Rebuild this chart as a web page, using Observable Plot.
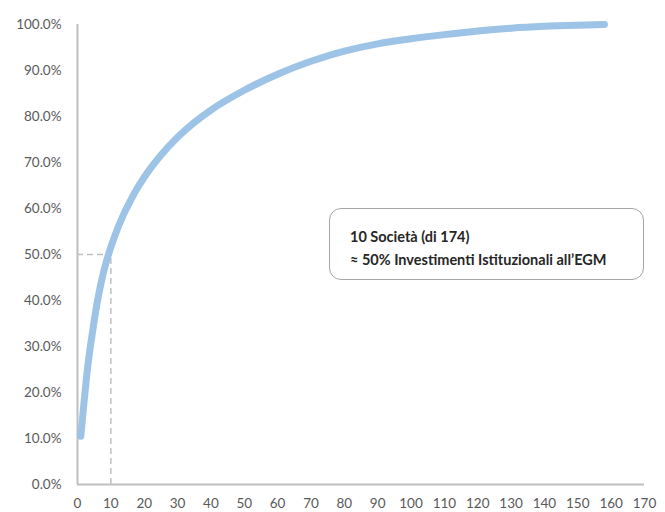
<!DOCTYPE html>
<html>
<head>
<meta charset="utf-8">
<script src="https://cdn.jsdelivr.net/npm/d3@7"></script>
<script src="https://cdn.jsdelivr.net/npm/@observablehq/plot@0.6"></script>
<style>
  html, body { margin: 0; padding: 0; background: #fff; }
  #wrap { position: relative; width: 665px; height: 512px; font-family: Lato, "Open Sans", sans-serif; }
  #note {
    position: absolute; left: 329px; top: 208px; width: 315px; height: 72px;
    box-sizing: border-box; border: 1.5px solid #a6a6a6; border-radius: 12px; background: #fff;
    padding: 16px 0 0 20px; font-weight: bold; font-size: 14.5px; line-height: 23px; color: #262626;
  }
</style>
</head>
<body>
<div id="wrap"><div id="note"></div></div>
<script>
// Number of companies (ranked) and cumulative share of institutional investment
const companies = [1, 2, 3, 4, 5, 6, 7, 8, 9, 10, 12, 14, 16, 18, 20, 25, 30, 35, 40, 50, 60, 70, 80, 90, 100, 110, 120, 130, 140, 150, 158];
const cumShare  = [0.105, 0.182, 0.252, 0.307, 0.356, 0.399, 0.436, 0.467, 0.493, 0.516, 0.556, 0.59, 0.619, 0.645, 0.668, 0.716, 0.755, 0.787, 0.814, 0.857, 0.892, 0.92, 0.942, 0.958, 0.969, 0.978, 0.986, 0.992, 0.996, 0.9985, 1.0];
const xTicks = d3.range(0, 171, 10);
const yTicks = d3.range(0, 1.0001, 0.1);
const refX = 10, refY = 0.5;
const noteLines = ["10 Società (di 174)", "≈ 50% Investimenti Istituzionali all’EGM"];

const data = companies.map((c, i) => ({x: c, y: cumShare[i]}));
const fmtPct = d => (d * 100).toFixed(1) + "%";

const chart = Plot.plot({
  width: 665,
  height: 512,
  marginLeft: 77,
  marginRight: 21,
  marginTop: 24,
  marginBottom: 28,
  style: {fontFamily: "Lato, 'Open Sans', sans-serif", fontSize: "13.5px", color: "#595959", background: "#fff"},
  x: {domain: [0, 170], ticks: xTicks, tickSize: 0, tickPadding: 14, label: null},
  y: {domain: [0, 1], ticks: yTicks, tickSize: 0, tickPadding: 16, tickFormat: fmtPct, label: null},
  marks: [
    Plot.ruleY([0], {x1: 0, x2: 170, stroke: "#bfbfbf", strokeWidth: 2}),
    Plot.ruleX([0], {y1: 0, y2: 1, stroke: "#bfbfbf", strokeWidth: 2}),
    Plot.ruleY([refY], {x1: 0, x2: refX, stroke: "#bfbfbf", strokeWidth: 1.5, strokeDasharray: "6,4"}),
    Plot.ruleX([refX], {y1: 0, y2: refY, stroke: "#bfbfbf", strokeWidth: 1.5, strokeDasharray: "6,4"}),
    Plot.line(data, {x: "x", y: "y", stroke: "#9dc3e6", strokeWidth: 7, strokeLinecap: "round", strokeLinejoin: "round", curve: "monotone-x"})
  ]
});
const wrap = document.getElementById("wrap");
wrap.insertBefore(chart, wrap.firstChild);
document.getElementById("note").innerHTML = noteLines.join("<br>");
</script>
</body>
</html>
